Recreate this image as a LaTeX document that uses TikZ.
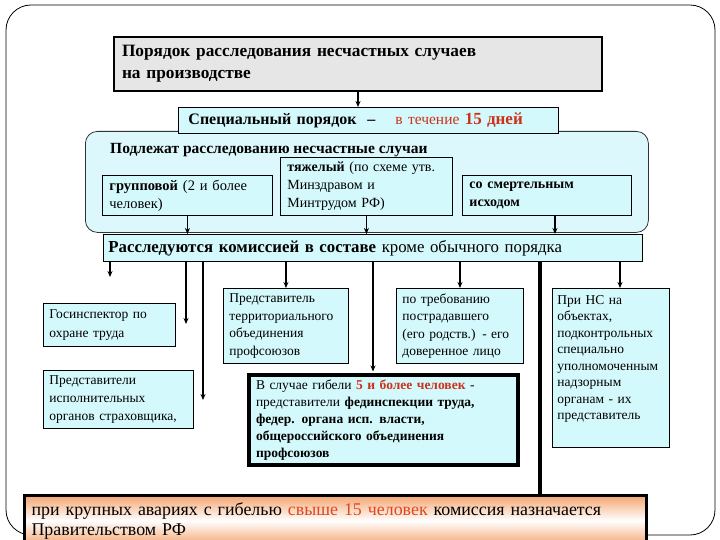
\documentclass[tikz,border=0pt]{standalone}
\usepackage{fontspec}
\setmainfont{Liberation Serif}
\usetikzlibrary{arrows.meta,calc}
\definecolor{cy}{RGB}{212,249,252}
\definecolor{cyb}{RGB}{220,248,252}
\definecolor{gr}{RGB}{230,230,230}
\definecolor{rd}{RGB}{205,50,25}
\definecolor{rdb}{RGB}{225,70,30}
\definecolor{orng}{RGB}{244,165,112}
\newcommand{\fsz}[2]{\fontsize{#1}{#2}\selectfont}
\begin{document}
\begin{tikzpicture}[x=1pt,y=-1pt,
  box/.style={draw=black, line width=0.9pt, fill=cy, anchor=north west, align=left, inner xsep=6pt, inner ysep=0pt},
  arr/.style={line width=1.5pt, -{Stealth[length=6pt,width=5pt]}},
  thk/.style={line width=4pt}]
\useasboundingbox (0,0) rectangle (720,540);
% outer frame
\draw[line width=0.8pt, rounded corners=25] (6,5) rectangle (715,535);

% title
\node[box, fill=gr, line width=2pt, inner xsep=8pt, minimum width=488, minimum height=54, text width=472,
  font=\bfseries\fsz{17.3}{22}] (title) at (113,36)
  {Порядок расследования несчастных случаев\\на производстве};

% container
\node[draw=black!80, line width=0.8pt, fill=cyb, rounded corners=12, anchor=north west,
  minimum width=563, minimum height=101, inner sep=0pt] (cont) at (85,131) {};
\node[anchor=west, inner sep=0pt, font=\bfseries\fsz{15.5}{18}] (podl) at (110,150)
  {Подлежат расследованию несчастные случаи};

% special
\node[box, inner xsep=10pt, minimum width=380, minimum height=26, text width=360,
  font=\fsz{16}{18}] (spec) at (178,107)
  {\textbf{Специальный порядок \ –}\hspace{20pt}{\color{rd}\fsz{15.5}{18}в течение \textbf{\fsz{17}{18}15 дней}}};

\draw[arr] (title.south) -- (title.south |- spec.north);

% three cases
\node[box, inner xsep=7pt, minimum width=170, minimum height=40, text width=156, font=\fsz{14.5}{18}] (grp) at (102,175)
  {\textbf{групповой} (2 и более\\человек)};
\node[box, inner xsep=7pt, minimum width=172, minimum height=58, text width=158, font=\fsz{14}{18}] (tyazh) at (280,157)
  {\textbf{тяжелый} (по схеме утв.\\Минздравом и\\Минтрудом РФ)};
\node[box, inner xsep=7pt, minimum width=169, minimum height=40, text width=155, font=\bfseries\fsz{14}{18}] (smert) at (462,175)
  {со смертельным\\исходом};

% commission bar
\node[box, inner xsep=5pt, minimum width=539, minimum height=27, text width=529, font=\fsz{16.8}{19}] (bar) at (103,234)
  {\textbf{Расследуются комиссией в составе} кроме обычного порядка};

\draw[arr] (grp.south) -- (grp.south |- bar.north);
\draw[arr] (tyazh.south) -- (tyazh.south |- bar.north);
\draw[arr] ($(smert.south)+(8,0)$) -- ($(smert.south |- bar.north)+(8,0)$);

% lower boxes
\node[box, minimum width=132, minimum height=43, text width=120, font=\fsz{13.5}{19}] (gos) at (43,303)
  {Госинспектор по\\охране труда};
\node[box, minimum width=150, minimum height=58, text width=138, font=\fsz{13.5}{18}] (strah) at (43,370)
  {Представители\\исполнительных\\органов страховщика,};
\node[box, minimum width=125, minimum height=75, text width=113, font=\fsz{13.5}{17.5}] (terr) at (223,288)
  {Представитель\\территориального\\объединения\\профсоюзов};
\node[box, minimum width=127, minimum height=75, text width=115, font=\fsz{13.5}{17.5}] (treb) at (396,288)
  {по требованию\\пострадавшего\\(его родств.) - его\\доверенное лицо};
\node[box, inner xsep=5pt, inner ysep=6pt, minimum width=115, minimum height=159, text width=107, font=\fsz{13.5}{16.5}] (pns) at (552,288)
  {\parbox[c][145pt][t]{107pt}{\raggedright При НС на\\объектах,\\подконтрольных\\специально\\уполномоченным\\надзорным\\органам - их\\представитель}};
\node[box, line width=4pt, inner xsep=7pt, minimum width=269, minimum height=90, text width=255, font=\fsz{13.5}{17}] (gib) at (247,373)
  {В случае гибели \textcolor{rd}{\textbf{5 и более человек}} -\\представители \textbf{фединспекции труда,}\\\textbf{федер. органа исп. власти,}\\\textbf{общероссийского объединения}\\\textbf{профсоюзов}};

% bottom box
\node[draw=black, line width=3pt, anchor=north west, align=left, inner xsep=7pt, inner ysep=0pt,
  top color=orng, bottom color=orng, middle color=white,
  minimum width=622, minimum height=50, text width=608, font=\fsz{17.9}{20}] (bot) at (23,494)
  {при крупных авариях с гибелью \textcolor{rdb}{свыше 15 человек} комиссия назначается\\Правительством РФ};

% connectors below bar
\coordinate (s1) at (110,277);
\coordinate (e1) at (186,324);
\coordinate (e2) at (203,400);
\coordinate (g1) at (373,0);
\coordinate (t1) at (540,0);
\coordinate (p1) at (620,0);
\draw[arr] (bar.south -| s1) -- (s1);
\draw[arr] (bar.south -| e1) -- (e1);
\draw[arr] (bar.south -| e2) -- (e2);
\draw[arr] (bar.south -| terr.north) -- (terr.north);
\draw[arr, shorten >=1.5pt] (bar.south -| g1) -- (g1 |- gib.north);
\draw[arr] (bar.south -| treb.north) -- (treb.north);
\draw[thk] (bar.south -| t1) -- (t1 |- bot.north);
\draw[arr] (bar.south -| p1) -- (p1 |- pns.north);
\end{tikzpicture}
\end{document}
